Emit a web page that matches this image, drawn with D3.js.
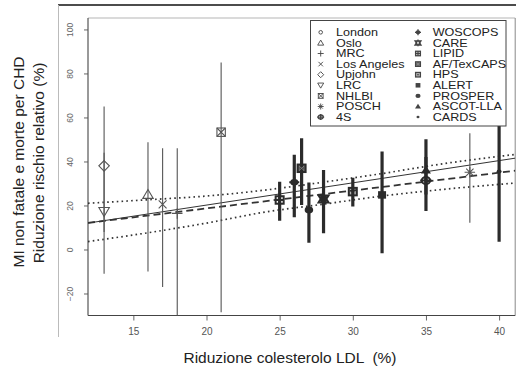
<!DOCTYPE html>
<html>
<head>
<meta charset="utf-8">
<script src="https://cdn.jsdelivr.net/npm/d3@7/dist/d3.min.js"></script>
<style>
  html, body { margin: 0; padding: 0; background: #fff; }
  svg { display: block; font-family: "Liberation Sans", Arial, Helvetica, sans-serif; }
</style>
</head>
<body>
<svg id="chart" width="516" height="371"></svg>
<script>
// Trials, LDL-cholesterol reduction (%) and relative risk reduction (%) with 95% CI
const trials = ["London", "Oslo", "MRC", "Los Angeles", "Upjohn", "LRC", "NHLBI", "POSCH", "4S",
                "WOSCOPS", "CARE", "LIPID", "AF/TexCAPS", "HPS", "ALERT", "PROSPER", "ASCOT-LLA", "CARDS"];
const ldlReduction = [null, 16, 18, 17, 13, 13, 21, 38, 35, 26, 28, 25, 26.5, 30, 32, 27, 35, 40];
const riskReduction = [null, 25, 16.4, 20.5, 38, 17.3, 53.3, 35.1, 31.3, 30.5, 23, 22.5, 36.9, 26.3, 24.8, 18, 36.1, 35.4];
const ciLower = [null, -10, -35, -17, 8, -11, -28.5, 12.2, 17.5, 14.6, 7.4, 13.1, 20.2, 19.5, -1.7, 3.1, 25, 3.5];
const ciUpper = [null, 48.7, 46, 46, 65, 44, 85, 52.8, 42, 43, 36.1, 30.8, 50.5, 32.6, 44.5, 30.4, 50.1, 60];
const isStatinTrial = [false, false, false, false, false, false, false, false, true,
                       true, true, true, true, true, true, true, true, true];

// Fitted lines
const solidLineX = [11.9, 41.1];
const solidLineY = [12.0, 41.5];
const dashedLineX = [11.9, 41.1];
const dashedLineY = [12.1, 35.8];
// Confidence band of the dashed fit
const bandX = [11.9, 16, 20, 24, 28, 32, 36, 41.1];
const bandUpper = [21.0, 22.6, 24.3, 27.0, 30.6, 34.5, 38.8, 43.2];
const bandLower = [3.6, 7.6, 12.0, 17.0, 20.6, 24.3, 27.2, 30.2];

const xTicks = [15, 20, 25, 30, 35, 40];
const yTicks = [-20, 0, 20, 40, 60, 80, 100];

const xTitle = "Riduzione colesterolo LDL  (%)";
const yTitle1 = "MI non fatale e morte per CHD";
const yTitle2 = "Riduzione rischio relativo (%)";

const svg = d3.select("#chart");

const plot = { left: 88, right: 515.2, top: 18, bottom: 315.5 };
const x = d3.scaleLinear().domain([11.9, 41.1]).range([plot.left, plot.right]);
const y = d3.scaleLinear().domain([-30, 105.2]).range([plot.bottom, plot.top]);

// Outer frame of the figure
svg.append("line").attr("x1", 58).attr("x2", 516).attr("y1", 5).attr("y2", 5)
  .attr("stroke", "#111").attr("stroke-width", 1.6);
svg.append("line").attr("x1", 58.5).attr("x2", 58.5).attr("y1", 5).attr("y2", 337)
  .attr("stroke", "#bbb").attr("stroke-width", 1);

svg.append("defs").append("clipPath").attr("id", "plotClip")
  .append("rect").attr("x", plot.left).attr("y", plot.top)
  .attr("width", plot.right - plot.left).attr("height", plot.bottom - plot.top);

// Axes
const xAxis = svg.append("g").attr("transform", `translate(0,${plot.bottom})`)
  .call(d3.axisBottom(x).tickValues(xTicks).tickSize(5).tickPadding(7).tickFormat(d3.format("d")));
xAxis.select(".domain").remove();
xAxis.selectAll("line").attr("stroke", "#666");
xAxis.selectAll("text").attr("fill", "#555").style("font-size", "10px")
  .style("font-family", "'Liberation Sans', Arial, sans-serif");

const yAxis = svg.append("g").attr("transform", `translate(${plot.left},0)`)
  .call(d3.axisLeft(y).tickValues(yTicks).tickSize(4).tickFormat(d3.format("d")));
yAxis.select(".domain").remove();
yAxis.selectAll("line").attr("stroke", "#666");
yAxis.selectAll("text")
  .attr("transform", "rotate(-90)")
  .attr("x", 0).attr("y", -18).attr("dy", null)
  .attr("dominant-baseline", "central")
  .style("text-anchor", "middle")
  .attr("fill", "#666").style("font-size", "8.5px")
  .style("font-family", "'Liberation Sans', Arial, sans-serif");

// Plot box
svg.append("line").attr("x1", plot.left).attr("x2", plot.right).attr("y1", plot.top).attr("y2", plot.top)
  .attr("stroke", "#b5b5b5").attr("stroke-width", 1);
svg.append("line").attr("x1", plot.right).attr("x2", plot.right).attr("y1", plot.top).attr("y2", plot.bottom)
  .attr("stroke", "#888").attr("stroke-width", 1);
svg.append("line").attr("x1", plot.left).attr("x2", plot.right).attr("y1", plot.bottom).attr("y2", plot.bottom)
  .attr("stroke", "#444").attr("stroke-width", 1.2);
svg.append("line").attr("x1", plot.left).attr("x2", plot.left).attr("y1", plot.top).attr("y2", plot.bottom)
  .attr("stroke", "#555").attr("stroke-width", 1.2);

const inner = svg.append("g").attr("clip-path", "url(#plotClip)");

// Fitted lines and confidence band
const line = d3.line().x(d => x(d[0])).y(d => y(d[1]));
const curve = d3.line().x(d => x(d[0])).y(d => y(d[1])).curve(d3.curveMonotoneX);

inner.append("path").datum(d3.zip(bandX, bandUpper)).attr("d", curve)
  .attr("fill", "none").attr("stroke", "#333").attr("stroke-width", 1.7).attr("stroke-dasharray", "1.6,3.2");
inner.append("path").datum(d3.zip(bandX, bandLower)).attr("d", curve)
  .attr("fill", "none").attr("stroke", "#333").attr("stroke-width", 1.7).attr("stroke-dasharray", "1.6,3.2");
inner.append("path").datum(d3.zip(solidLineX, solidLineY)).attr("d", line)
  .attr("fill", "none").attr("stroke", "#333").attr("stroke-width", 1);
inner.append("path").datum(d3.zip(dashedLineX, dashedLineY)).attr("d", line)
  .attr("fill", "none").attr("stroke", "#333").attr("stroke-width", 1.8).attr("stroke-dasharray", "7,4");

// Marker drawing
const markerType = {
  "London": "circle", "Oslo": "triUp", "MRC": "plus", "Los Angeles": "cross", "Upjohn": "diamond",
  "LRC": "triDown", "NHLBI": "boxX", "POSCH": "asterisk", "4S": "circlePlus", "WOSCOPS": "dotPlus",
  "CARE": "star", "LIPID": "boxPlus", "AF/TexCAPS": "boxXFilled", "HPS": "boxDot", "ALERT": "square",
  "PROSPER": "dot", "ASCOT-LLA": "triFilled", "CARDS": "smallDot"
};

function drawMarker(g, type, cx, cy, s, sw, col) {
  const m = g.append("g").attr("transform", `translate(${cx},${cy})`);
  const st = sel => sel.attr("fill", "none").attr("stroke", col).attr("stroke-width", sw);
  const h = s / 2;
  switch (type) {
    case "circle":
      st(m.append("circle").attr("r", h * 0.6)); break;
    case "triUp":
      st(m.append("path").attr("d", `M${-h},${h * 0.75}L${h},${h * 0.75}L0,${-h * 0.95}Z`)); break;
    case "triDown":
      st(m.append("path").attr("d", `M${-h},${-h * 0.75}L${h},${-h * 0.75}L0,${h * 0.95}Z`)); break;
    case "plus":
      st(m.append("path").attr("d", `M${-h},0L${h},0M0,${-h}L0,${h}`)); break;
    case "cross":
      st(m.append("path").attr("d", `M${-h * 0.75},${-h * 0.75}L${h * 0.75},${h * 0.75}M${-h * 0.75},${h * 0.75}L${h * 0.75},${-h * 0.75}`)); break;
    case "diamond":
      st(m.append("path").attr("d", `M0,${-h}L${h},0L0,${h}L${-h},0Z`)); break;
    case "boxX":
      st(m.append("rect").attr("x", -h * 0.8).attr("y", -h * 0.8).attr("width", h * 1.6).attr("height", h * 1.6));
      st(m.append("path").attr("d", `M${-h * 0.8},${-h * 0.8}L${h * 0.8},${h * 0.8}M${-h * 0.8},${h * 0.8}L${h * 0.8},${-h * 0.8}`).attr("stroke-width", sw * 0.7));
      break;
    case "asterisk":
      st(m.append("path").attr("d",
        `M${-h},0L${h},0M0,${-h}L0,${h}M${-h * 0.7},${-h * 0.7}L${h * 0.7},${h * 0.7}M${-h * 0.7},${h * 0.7}L${h * 0.7},${-h * 0.7}`)); break;
    case "circlePlus":
      st(m.append("ellipse").attr("rx", h * 0.85).attr("ry", h * 0.7));
      st(m.append("path").attr("d", `M${-h * 1.15},0L${h * 1.15},0M0,${-h}L0,${h}`)); break;
    case "dotPlus":
      m.append("ellipse").attr("rx", h * 0.8).attr("ry", h * 0.65).attr("fill", col);
      st(m.append("path").attr("d", `M${-h},0L${h},0M0,${-h}L0,${h}`)); break;
    case "star":
      m.append("path").attr("d", `M${-h},${-h * 0.7}L${h},${-h * 0.7}L0,${h * 0.9}ZM${-h},${h * 0.7}L${h},${h * 0.7}L0,${-h * 0.9}Z`)
        .attr("fill", col).attr("fill-opacity", 0.55).attr("stroke", col).attr("stroke-width", sw); break;
    case "boxPlus":
      st(m.append("rect").attr("x", -h * 0.8).attr("y", -h * 0.75).attr("width", h * 1.6).attr("height", h * 1.5));
      st(m.append("path").attr("d", `M${-h * 0.8},0L${h * 0.8},0M0,${-h * 0.75}L0,${h * 0.75}`).attr("stroke-width", sw * 0.55));
      break;
    case "boxXFilled":
      m.append("rect").attr("x", -h * 0.8).attr("y", -h * 0.75).attr("width", h * 1.6).attr("height", h * 1.5)
        .attr("fill", col).attr("fill-opacity", 0.75).attr("stroke", col).attr("stroke-width", sw);
      m.append("path").attr("d", `M${-h * 0.5},${-h * 0.45}L${h * 0.5},${h * 0.45}M${-h * 0.5},${h * 0.45}L${h * 0.5},${-h * 0.45}`)
        .attr("stroke", "#888").attr("stroke-width", 0.8);
      break;
    case "boxDot":
      m.append("rect").attr("x", -h * 0.8).attr("y", -h * 0.75).attr("width", h * 1.6).attr("height", h * 1.5)
        .attr("fill", col).attr("fill-opacity", 0.35).attr("stroke", col).attr("stroke-width", sw);
      m.append("circle").attr("r", h * 0.28).attr("fill", col); break;
    case "square":
      m.append("rect").attr("x", -h * 0.8).attr("y", -h * 0.75).attr("width", h * 1.6).attr("height", h * 1.5).attr("fill", col); break;
    case "dot":
      m.append("ellipse").attr("rx", h * 0.85).attr("ry", h * 0.68).attr("fill", col); break;
    case "triFilled":
      m.append("path").attr("d", `M${-h},${h * 0.7}L${h},${h * 0.7}L0,${-h * 0.9}Z`).attr("fill", col); break;
    case "smallDot":
      m.append("ellipse").attr("rx", h * 0.5).attr("ry", h * 0.42).attr("fill", col); break;
  }
}

// Confidence intervals and point estimates
const points = trials.map((name, i) => ({
  name, ldl: ldlReduction[i], rrr: riskReduction[i],
  lo: ciLower[i], hi: ciUpper[i], statin: isStatinTrial[i]
})).filter(d => d.ldl !== null);

const ci = inner.append("g");
points.forEach(d => {
  ci.append("line")
    .attr("x1", x(d.ldl)).attr("x2", x(d.ldl))
    .attr("y1", y(d.lo)).attr("y2", y(d.hi))
    .attr("stroke", d.statin ? "#2b2b2b" : "#555")
    .attr("stroke-width", d.statin ? 3.2 : 1.1);
});

const mk = inner.append("g");
points.forEach(d => {
  if (d.statin) {
    drawMarker(mk, markerType[d.name], x(d.ldl), y(d.rrr), 10, 2, "#2b2b2b");
  } else {
    drawMarker(mk, markerType[d.name], x(d.ldl), y(d.rrr), 10.5, 1.1, "#555");
  }
});

// Legend: two columns of nine entries, text slightly widened
const legend = svg.append("g");
legend.append("rect").attr("x", 310.5).attr("y", 20.5).attr("width", 195.5).attr("height", 105.5)
  .attr("fill", "#fff").attr("stroke", "#444").attr("stroke-width", 1);
const perCol = 9;
trials.forEach((name, i) => {
  const col = Math.floor(i / perCol), row = i % perCol;
  const ly = 32.3 + row * 10.6;
  const sx = col === 0 ? 320.7 : 418;
  const tx = col === 0 ? 336 : 432.7;
  drawMarker(legend, markerType[name], sx, ly, 6, isStatinTrial[i] ? 1.3 : 0.9, "#444");
  legend.append("text").attr("transform", `translate(${tx},${ly}) scale(1.2,1)`)
    .attr("dy", "0.36em")
    .attr("fill", "#222").style("font-size", "10.5px").text(name);
});

// Axis titles
svg.append("text").attr("x", 290).attr("y", 357).attr("dy", "0.36em")
  .attr("text-anchor", "middle").attr("fill", "#222").style("font-size", "15.5px")
  .style("white-space", "pre").text(xTitle);

svg.append("text").attr("transform", "translate(18,162) rotate(-90)")
  .attr("text-anchor", "middle").attr("dy", "0.36em")
  .attr("fill", "#222").style("font-size", "15.5px").text(yTitle1);
svg.append("text").attr("transform", "translate(38,163) rotate(-90)")
  .attr("text-anchor", "middle").attr("dy", "0.36em")
  .attr("fill", "#222").style("font-size", "15.5px").text(yTitle2);
</script>
</body>
</html>
